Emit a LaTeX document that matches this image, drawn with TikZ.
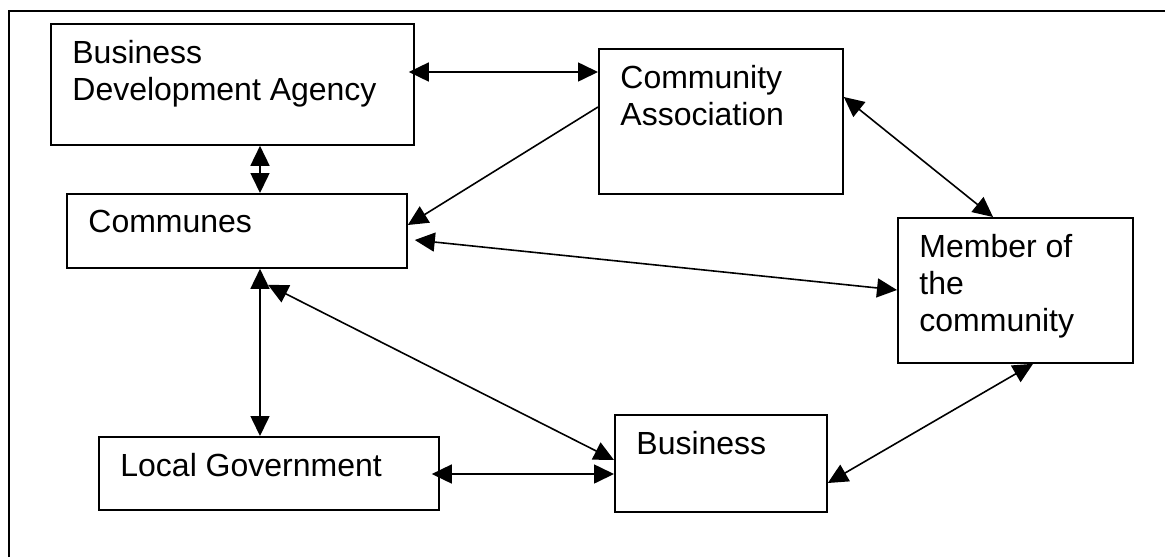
\documentclass[tikz,border=0pt]{standalone}
\usepackage{fontspec}
\setmainfont{Liberation Sans}
\usetikzlibrary{arrows.meta}
\tikzset{
	box/.style={draw, line width=0.9pt, anchor=north west, inner sep=0pt},
	boxtext/.style={anchor=north west, align=left, inner sep=0pt, xshift=11pt, yshift=-8.4pt,
		font=\fontsize{16pt}{18.5pt}\selectfont},
	link/.style={line width=0.8pt, {Triangle[length=10pt,width=9.5pt]}-{Triangle[length=10pt,width=9.5pt]}},
	onelink/.style={line width=0.8pt, -{Triangle[length=10pt,width=9.5pt]}}
}

\begin{document}
\begin{tikzpicture}[x=0.5pt,y=-0.5pt]
			\useasboundingbox (0,0) rectangle (1165,557);
			\draw[line width=0.9pt] (9,557) -- (9,11) -- (1165,11);
			\node[box, minimum width=181.5pt, minimum height=60.5pt,
				label={[boxtext]north west:Business\\Development Agency}] (bda) at (50,23) {};
			\node[box, minimum width=122pt, minimum height=72.5pt,
				label={[boxtext]north west:Community\\Association}] (ca) at (598,48) {};
			\node[box, minimum width=170pt, minimum height=37pt,
				label={[boxtext]north west:Communes}] (com) at (66,193) {};
			\node[box, minimum width=117.5pt, minimum height=72.5pt,
				label={[boxtext]north west:Member of\\the\\community}] (mem) at (897,217) {};
			\node[box, minimum width=170pt, minimum height=36.5pt,
				label={[boxtext]north west:Local Government}] (lg) at (98,436) {};
			\node[box, minimum width=106pt, minimum height=48.5pt,
				label={[boxtext]north west:Business}] (bus) at (614,414) {};
			\draw[link] ([xshift=-3pt,yshift=-24.5pt]bda.north east) -- ([yshift=-12pt]ca.north west);
			\draw[link] ([xshift=105pt]bda.south west) -- ([xshift=97pt]com.north west);
			\draw[onelink] ([yshift=-29.5pt]ca.north west) -- ([yshift=-16pt]com.north east);
			\draw[link] ([xshift=3.5pt,yshift=-23.5pt]com.north east) -- ([yshift=-36.5pt]mem.north west);
			\draw[link] ([yshift=-24.5pt]ca.north east) -- ([xshift=48pt]mem.north west);
			\draw[link] ([xshift=97pt]com.south west) -- ([xshift=81pt]lg.north west);
			\draw[link] ([xshift=101pt,yshift=-8pt]com.south west) -- ([yshift=-23pt]bus.north west);
			\draw[link] ([xshift=-4pt,yshift=-19pt]lg.north east) -- ([yshift=-30pt]bus.north west);
			\draw[link] ([yshift=-34.5pt]bus.north east) -- ([xshift=68pt]mem.south west);
		\end{tikzpicture}
\end{document}
